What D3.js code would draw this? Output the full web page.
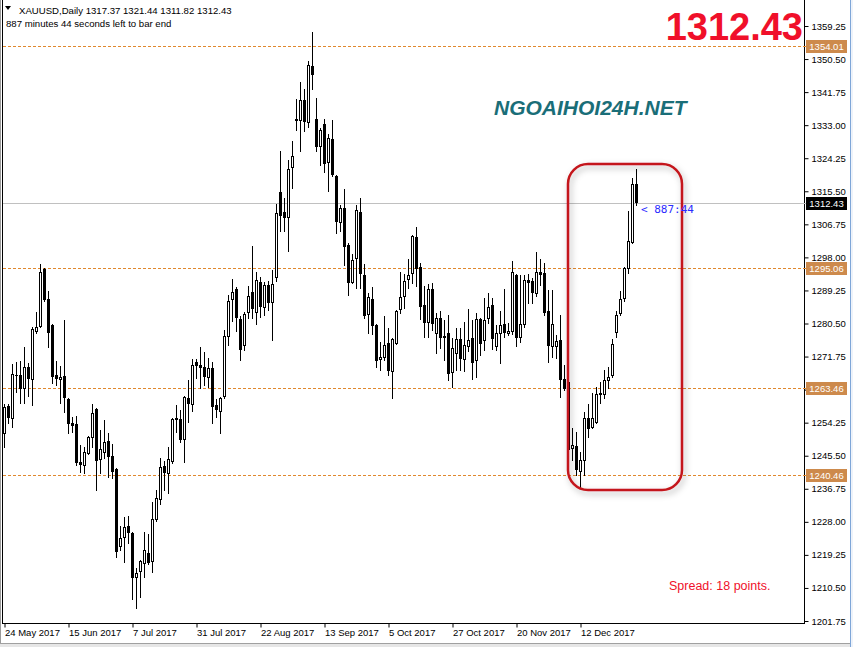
<!DOCTYPE html>
<html>
<head>
<meta charset="utf-8">
<script src="https://cdn.jsdelivr.net/npm/d3@7"></script>
<style>
  body { margin: 0; background: #fff; }
  svg { display: block; font-family: "Liberation Sans", Arial, sans-serif; }
</style>
</head>
<body>
<div id="chart"></div>
<script>
// XAUUSD daily bars
const opens = [1251.5,1258.6,1255.5,1266.9,1266.9,1263.4,1269.0,1265.8,1278.5,1279.8,1294.9,1287.0,1280.1,1266.8,1265.8,1266.6,1260.5,1254.1,1253.9,1243.8,
  1243.0,1246.2,1250.4,1257.8,1244.6,1246.5,1249.4,1245.4,1242.0,1221.6,1224.0,1226.9,1225.0,1213.4,1215.0,1217.1,1219.7,1217.6,1228.7,1234.0,
  1242.8,1240.9,1244.1,1255.5,1255.2,1249.9,1260.8,1259.2,1270.3,1269.5,1269.0,1266.3,1268.7,1258.9,1257.3,1261.3,1277.2,1287.0,1289.6,1281.7,
  1274.8,1283.5,1288.8,1283.5,1291.5,1284.9,1290.7,1286.2,1292.8,1315.3,1310.0,1308.7,1321.9,1334.4,1334.4,1339.7,1333.8,1348.7,1334.6,1327.5,
  1333.3,1323.2,1329.3,1319.5,1307.4,1311.1,1301.3,1291.5,1297.8,1310.0,1293.3,1283.0,1287.0,1280.1,1271.1,1271.6,1275.3,1268.0,1275.3,1284.3,
  1287.8,1292.3,1293.9,1303.4,1295.4,1285.4,1280.9,1289.6,1278.0,1281.9,1277.2,1278.0,1267.6,1272.7,1276.4,1271.1,1274.5,1276.6,1270.8,1281.7,
  1276.1,1281.9,1285.4,1274.5,1278.0,1280.4,1278.0,1278.5,1293.3,1276.9,1280.4,1292.0,1291.7,1288.6,1294.1,1293.9,1283.8,1274.5,1274.5,1276.1,
  1265.8,1265.0,1247.5,1248.1,1241.4,1244.3,1255.5,1253.1,1254.4,1262.1,1261.8,1265.5,1266.8,1278.2,1283.3,1287.2,1295.2,1302.1,1317.37];
const highs = [1259.2,1259.2,1269.8,1270.3,1270.6,1274.3,1270.0,1279.6,1283.5,1296.2,1295.3,1289.1,1280.4,1270.6,1269.2,1281.4,1260.8,1255.7,1256.0,1248.3,
  1247.8,1250.6,1259.2,1258.1,1252.3,1254.9,1251.5,1248.6,1242.3,1226.9,1229.3,1229.5,1225.3,1215.7,1217.9,1225.3,1224.8,1233.2,1236.4,1244.9,
  1244.1,1247.8,1255.4,1258.9,1257.6,1261.3,1265.5,1271.1,1271.1,1274.3,1272.9,1271.4,1270.3,1260.5,1261.0,1278.8,1288.0,1292.3,1290.1,1282.5,
  1283.5,1290.4,1301.0,1294.1,1292.8,1291.5,1291.7,1294.7,1312.1,1326.2,1313.7,1323.8,1328.8,1339.9,1344.4,1342.6,1350.0,1357.7,1340.2,1332.2,
  1334.6,1330.7,1334.4,1319.8,1311.9,1316.1,1301.8,1298.9,1311.9,1313.7,1296.2,1288.6,1290.1,1280.3,1275.6,1282.5,1279.3,1276.6,1284.1,1294.1,
  1293.6,1297.6,1303.9,1306.0,1296.5,1290.4,1290.9,1291.2,1283.3,1283.8,1281.4,1282.7,1276.6,1279.3,1279.3,1280.9,1284.3,1281.4,1283.3,1281.9,
  1287.2,1288.6,1287.2,1280.1,1283.8,1289.6,1280.6,1297.0,1293.6,1293.3,1293.3,1293.6,1292.5,1299.4,1297.6,1296.5,1289.4,1289.4,1277.4,1282.7,
  1269.5,1265.5,1252.8,1251.8,1246.5,1257.1,1259.2,1262.1,1263.7,1265.0,1268.2,1269.0,1276.4,1283.8,1289.1,1295.4,1310.3,1319.0,1321.44];
const lows = [1247.8,1254.1,1253.1,1262.4,1259.4,1259.4,1261.3,1258.9,1278.0,1279.5,1286.5,1274.3,1264.7,1264.2,1259.4,1257.1,1251.5,1251.8,1243.0,1241.2,
  1240.9,1246.0,1247.8,1236.4,1240.9,1244.9,1239.8,1239.6,1218.7,1220.5,1217.3,1222.4,1207.5,1205.2,1208.1,1213.4,1216.8,1214.7,1228.2,1232.7,
  1236.4,1235.6,1243.6,1251.8,1249.1,1243.8,1254.4,1257.3,1266.1,1263.4,1264.2,1263.7,1254.1,1255.7,1251.5,1260.8,1274.8,1281.1,1278.5,1270.8,
  1273.5,1281.9,1281.9,1280.4,1282.2,1282.7,1284.1,1276.1,1291.7,1305.0,1305.0,1299.7,1316.4,1331.7,1326.2,1331.5,1332.5,1342.6,1326.2,1322.5,
  1320.6,1315.6,1319.5,1304.4,1305.0,1296.0,1288.0,1291.2,1289.9,1289.9,1281.9,1278.0,1277.7,1269.0,1268.2,1270.8,1266.9,1260.8,1275.0,1283.3,
  1284.6,1289.9,1291.2,1290.4,1281.7,1276.9,1276.9,1278.8,1272.7,1274.0,1270.8,1265.5,1263.7,1268.2,1268.2,1267.9,1273.2,1265.8,1266.3,1272.1,
  1273.5,1280.6,1273.7,1273.5,1270.0,1276.9,1277.4,1277.7,1274.5,1275.6,1279.6,1285.9,1285.9,1287.8,1290.7,1282.7,1270.3,1271.6,1271.4,1261.0,
  1262.9,1246.5,1244.3,1240.4,1236.9,1240.4,1250.4,1252.8,1254.1,1259.4,1260.8,1263.4,1266.3,1276.9,1282.7,1286.4,1293.9,1301.8,1311.82];
const closes = [1258.4,1255.5,1267.1,1266.6,1263.1,1269.0,1265.8,1279.0,1279.6,1294.1,1286.7,1278.0,1266.3,1265.8,1266.3,1260.8,1253.9,1253.3,1243.6,1243.0,
  1246.5,1250.4,1256.8,1244.1,1247.3,1249.1,1245.1,1241.2,1220.0,1223.7,1226.6,1225.0,1213.1,1214.4,1217.6,1220.5,1217.1,1228.7,1234.3,1242.5,
  1240.9,1244.6,1255.2,1254.9,1249.6,1261.0,1259.2,1269.5,1269.2,1268.7,1266.3,1268.7,1258.4,1257.6,1260.8,1277.2,1286.4,1288.8,1281.9,1273.5,
  1283.0,1287.8,1284.3,1292.0,1284.9,1290.7,1285.9,1290.9,1309.7,1308.9,1308.4,1321.4,1324.8,1334.6,1339.7,1333.8,1348.9,1346.3,1327.2,1331.7,
  1322.7,1329.6,1319.8,1307.4,1311.1,1300.7,1291.2,1297.3,1310.5,1293.6,1282.5,1287.5,1279.8,1270.6,1271.6,1274.8,1267.9,1276.4,1283.8,1287.5,
  1291.7,1293.3,1303.7,1294.9,1284.9,1280.6,1289.6,1280.4,1281.9,1276.6,1276.6,1267.1,1274.0,1276.4,1271.1,1274.8,1276.1,1270.0,1281.7,1275.1,
  1281.4,1284.9,1276.4,1278.0,1280.1,1278.0,1278.5,1294.1,1276.6,1280.4,1292.0,1291.2,1288.6,1294.1,1293.3,1283.3,1274.5,1280.4,1275.9,1265.5,
  1263.1,1247.0,1248.3,1241.7,1244.3,1255.5,1252.6,1255.5,1261.8,1261.6,1265.5,1266.3,1275.1,1282.7,1287.0,1295.2,1302.3,1317.4,1312.43];

const dateTickBars = [0, 16, 32, 48, 64, 80, 96, 112, 128, 144];
const dateTickLabels = ["24 May 2017", "15 Jun 2017", "7 Jul 2017", "31 Jul 2017", "22 Aug 2017",
  "13 Sep 2017", "5 Oct 2017", "27 Oct 2017", "20 Nov 2017", "12 Dec 2017"];
const priceTicks = [1359.25, 1350.50, 1341.75, 1333.00, 1324.25, 1315.50, 1306.75, 1298.00, 1289.25, 1280.50,
  1271.75, 1263.00, 1254.25, 1245.50, 1236.75, 1228.00, 1219.25, 1210.50, 1201.75];
const levels = [1354.01, 1295.06, 1263.46, 1240.46];
const bid = 1312.43;

const width = 853;
const height = 647;
const plotLeft = 3;
const plotRight = 804;
const plotBottom = 623;

const bars = opens.map((o, i) => ({ i: i, o: o, h: highs[i], l: lows[i], c: closes[i] }));

const x = d3.scaleLinear().domain([0, opens.length - 1]).range([4, 4 + 4 * (opens.length - 1)]);
const y = d3.scaleLinear().domain([1201.75, 1359.25]).range([621, 26]);

const svg = d3.select("#chart")
  .append("svg")
  .attr("width", width)
  .attr("height", height)
  .attr("viewBox", [0, 0, width, height]);

const defs = svg.append("defs");
const shadow = defs.append("filter").attr("id", "shadow")
  .attr("x", "-20%").attr("y", "-10%").attr("width", "140%").attr("height", "120%");
shadow.append("feDropShadow")
  .attr("dx", 2).attr("dy", 3).attr("stdDeviation", 3)
  .attr("flood-color", "#000").attr("flood-opacity", 0.3);

svg.append("rect").attr("width", width).attr("height", height).attr("fill", "#fff");

// window frame
svg.append("rect").attr("x", 0).attr("y", 643).attr("width", width).attr("height", 4).attr("fill", "#e6e6e6");
svg.append("line").attr("x1", 0).attr("x2", width).attr("y1", 643.5).attr("y2", 643.5).attr("stroke", "#a0a0a0");
svg.append("rect").attr("x", 850).attr("y", 0).attr("width", 3).attr("height", height).attr("fill", "#eef3fa");
svg.append("line").attr("x1", 850.5).attr("x2", 850.5).attr("y1", 0).attr("y2", height).attr("stroke", "#7fa6d8");
svg.append("line").attr("x1", 0.5).attr("x2", 0.5).attr("y1", 0).attr("y2", 643).attr("stroke", "#9a9a9a");

// plot frame
svg.append("line").attr("x1", plotLeft - 0.5).attr("x2", plotLeft - 0.5).attr("y1", 0).attr("y2", plotBottom + 0.5)
  .attr("stroke", "#000");
svg.append("line").attr("x1", plotLeft - 1).attr("x2", plotRight + 0.5).attr("y1", plotBottom + 0.5).attr("y2", plotBottom + 0.5)
  .attr("stroke", "#000");
svg.append("line").attr("x1", plotRight + 0.5).attr("x2", plotRight + 0.5).attr("y1", 0).attr("y2", plotBottom + 1)
  .attr("stroke", "#000");

// level lines
svg.selectAll(".level")
  .data(levels)
  .join("line")
  .attr("class", "level")
  .attr("x1", plotLeft)
  .attr("x2", plotRight + 4)
  .attr("y1", (d) => Math.round(y(d)) + 0.5)
  .attr("y2", (d) => Math.round(y(d)) + 0.5)
  .attr("stroke", "#e0882e")
  .attr("stroke-dasharray", "3,2");

svg.append("line")
  .attr("x1", plotLeft).attr("x2", plotRight + 4)
  .attr("y1", Math.round(y(bid)) + 0.5).attr("y2", Math.round(y(bid)) + 0.5)
  .attr("stroke", "#c0c0c0");

// candles
const g = svg.append("g");
g.selectAll(".wick")
  .data(bars)
  .join("line")
  .attr("class", "wick")
  .attr("x1", (d) => x(d.i) + 0.5)
  .attr("x2", (d) => x(d.i) + 0.5)
  .attr("y1", (d) => Math.round(y(d.h)))
  .attr("y2", (d) => Math.round(y(d.l)) + 1)
  .attr("stroke", "#000");

g.selectAll(".body")
  .data(bars)
  .join("rect")
  .attr("class", "body")
  .attr("x", (d) => (d.c >= d.o ? x(d.i) - 0.5 : x(d.i) - 1))
  .attr("y", (d) => Math.round(y(Math.max(d.o, d.c))) + (d.c >= d.o ? 0.5 : 0))
  .attr("width", (d) => (d.c >= d.o ? 2 : 3))
  .attr("height", (d) => Math.max(1, Math.round(Math.abs(y(d.o) - y(d.c)))))
  .attr("fill", (d) => (d.c >= d.o ? "#fff" : "#000"))
  .attr("stroke", (d) => (d.c >= d.o ? "#000" : "none"));

// price axis; the label under the 1263.46 tag is hidden in the terminal
const hiddenTick = 1263.00;
const yAxis = svg.append("g")
  .attr("transform", `translate(${plotRight + 0.5},0)`)
  .call(d3.axisRight(y).tickValues(priceTicks).tickSize(4).tickSizeOuter(0)
    .tickFormat((d) => (d === hiddenTick ? "" : d3.format(".2f")(d))));
yAxis.select(".domain").remove();
yAxis.selectAll("text").attr("font-size", 9.5).attr("font-family", "Liberation Sans, Arial").attr("x", 7).attr("fill", "#000");

// date axis
const xAxis = svg.append("g")
  .attr("transform", `translate(0.5,${plotBottom + 0.5})`)
  .call(d3.axisBottom(x).tickValues(dateTickBars).tickSize(4).tickSizeOuter(0)
    .tickFormat((d, i) => dateTickLabels[i]));
xAxis.select(".domain").remove();
xAxis.selectAll("text").attr("font-size", 9.5).attr("font-family", "Liberation Sans, Arial")
  .attr("text-anchor", "start").attr("x", 0).attr("y", 6).attr("fill", "#000");

// price labels on the axis
const tags = svg.selectAll(".tag")
  .data(levels.map((v) => ({ v: v, fill: "#cd8a4c" })).concat([{ v: bid, fill: "#000" }]))
  .join("g")
  .attr("class", "tag")
  .attr("transform", (d) => `translate(806,${Math.round(y(d.v))})`);
tags.append("rect")
  .attr("x", 0).attr("y", -6).attr("width", 41).attr("height", 13)
  .attr("fill", (d) => d.fill);
tags.append("text")
  .attr("x", 20.5).attr("y", 4)
  .attr("text-anchor", "middle")
  .attr("font-size", 9.5)
  .attr("fill", "#fff")
  .text((d) => d.v.toFixed(2));

// highlight box
svg.append("rect")
  .attr("x", 568).attr("y", 164).attr("width", 114).attr("height", 326)
  .attr("rx", 20).attr("ry", 20)
  .attr("fill", "none")
  .attr("stroke", "#c4161c")
  .attr("stroke-width", 2.5)
  .attr("filter", "url(#shadow)");

// texts
svg.append("path").attr("d", "M5,6 L11,6 L8,10 Z").attr("fill", "#000");
svg.append("text").attr("x", 19).attr("y", 14).attr("font-size", 9.6).attr("fill", "#000")
  .text("XAUUSD,Daily  1317.37 1321.44 1311.82 1312.43");
svg.append("text").attr("x", 6).attr("y", 27).attr("font-size", 9.6).attr("fill", "#000")
  .text("887 minutes 44 seconds left to bar end");

svg.append("text").attr("x", 803).attr("y", 40).attr("text-anchor", "end")
  .attr("font-size", 38).attr("font-weight", "bold").attr("fill", "#f0102a")
  .text("1312.43");

svg.append("text").attr("x", 494).attr("y", 115)
  .attr("font-size", 21).attr("font-weight", "bold").attr("font-style", "italic").attr("fill", "#1a6e78")
  .text("NGOAIHOI24H.NET");

svg.append("text").attr("x", 641).attr("y", 213)
  .attr("font-size", 11).attr("font-family", "DejaVu Sans Mono, monospace").attr("fill", "#2b2bff")
  .text("< 887:44");

svg.append("text").attr("x", 669).attr("y", 590)
  .attr("font-size", 12.5).attr("fill", "#f0102a")
  .text("Spread: 18 points.");
</script>
</body>
</html>
